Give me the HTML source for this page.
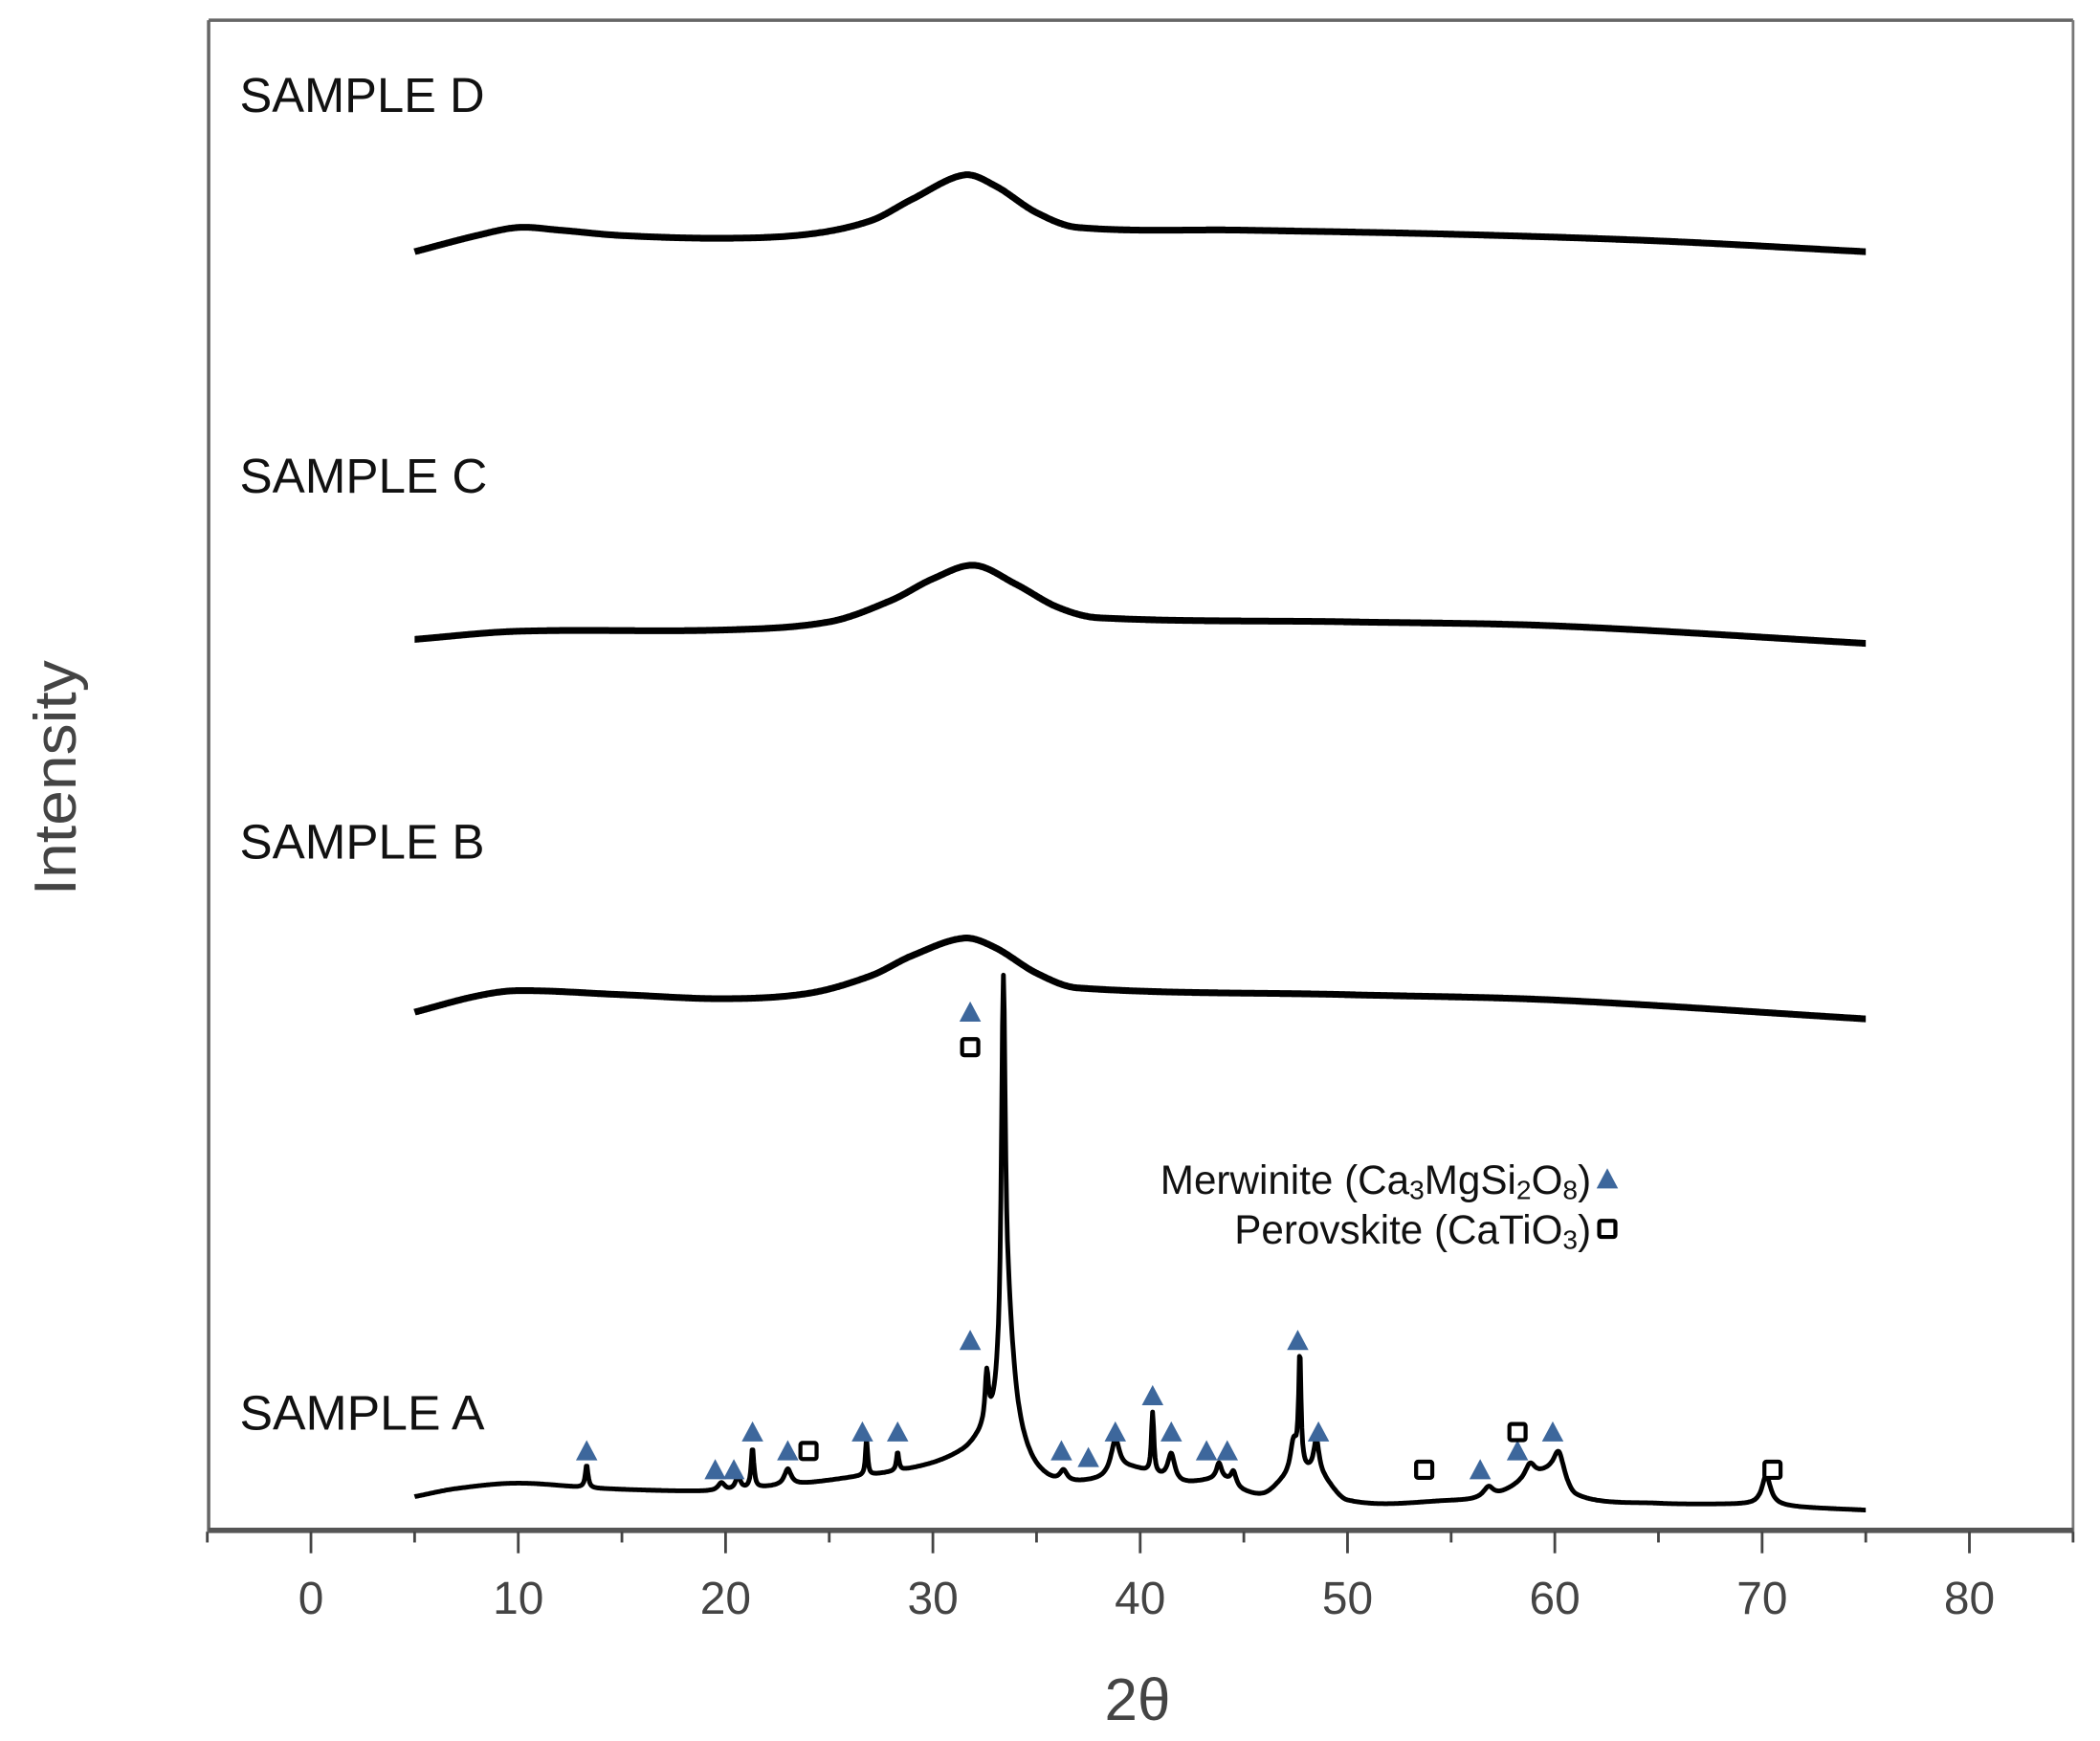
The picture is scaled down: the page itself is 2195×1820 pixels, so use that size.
<!DOCTYPE html>
<html><head><meta charset="utf-8"><style>
html,body{margin:0;padding:0;background:#fff}
svg{display:block}
text{font-family:"Liberation Sans",sans-serif}
</style></head><body>
<svg id="chart" width="2195" height="1820" viewBox="0 0 1560 1293.5" preserveAspectRatio="none" xmlns="http://www.w3.org/2000/svg">
<rect x="0" y="0" width="1560" height="1293.5" fill="#fff"/>
<g id="frame">
<line x1="155" y1="15" x2="1540" y2="15" stroke="#666" stroke-width="2.5"/>
<line x1="155" y1="15" x2="155" y2="1138" stroke="#666" stroke-width="2.5"/>
<line x1="1540" y1="15" x2="1540" y2="1138" stroke="#777" stroke-width="2"/>
<line x1="155" y1="1137" x2="1540" y2="1137" stroke="#555" stroke-width="4"/>
</g>
<g id="xticks"></g>
<g id="curves"></g>
<g id="markers"></g>
<text x="178" y="83" font-size="36" textLength="182" lengthAdjust="spacingAndGlyphs" fill="#111">SAMPLE D</text>
<text x="178" y="366" font-size="36" textLength="184" lengthAdjust="spacingAndGlyphs" fill="#111">SAMPLE C</text>
<text x="178" y="638" font-size="36" textLength="182" lengthAdjust="spacingAndGlyphs" fill="#111">SAMPLE B</text>
<text x="178" y="1062" font-size="36" textLength="182" lengthAdjust="spacingAndGlyphs" fill="#111">SAMPLE A</text>
<text x="1182" y="887" font-size="30" text-anchor="end" fill="#111">Merwinite (Ca<tspan font-size="20" dy="4">3</tspan><tspan dy="-4">MgSi</tspan><tspan font-size="20" dy="4">2</tspan><tspan dy="-4">O</tspan><tspan font-size="20" dy="4">8</tspan><tspan dy="-4">)</tspan></text>
<text x="1182" y="924" font-size="30" text-anchor="end" fill="#111">Perovskite (CaTiO<tspan font-size="20" dy="4">3</tspan><tspan dy="-4">)</tspan></text>
<text transform="translate(56,578) rotate(-90)" font-size="44" text-anchor="middle" textLength="175" lengthAdjust="spacingAndGlyphs" fill="#444">Intensity</text>
<text x="845" y="1278" font-size="44" text-anchor="middle" fill="#444">2θ</text>
</svg>
<script>
const tickValues=[0,10,20,30,40,50,60,70,80];
const minorTicks=[-5,5,15,25,35,45,55,65,75,85];
const sampleNames=["D","C","B","A"];
const zeroLevels=[200,490,770,1130];
const baseD=[[5,13],[8,25],[10,31],[12,29],[15,25],[20,23],[24,26],[27,36],[29,52],[31.5,70],[33,62],[35,42],[37,31],[45,29],[55,26],[65,21],[75,13]];
const baseC=[[5,15],[10,21],[20,22],[25,28],[28,44],[30,60],[32,70],[34,56],[36,39],[38,31],[50,28],[60,25],[75,12]];
const baseB=[[5,18],[8,30],[10,34],[15,31],[20,28],[24,32],[27,45],[29,60],[31.5,73],[33,66],[35,47],[37,36],[50,31],[60,27],[75,13]];
const baseA=[[5,18],[7,24],[10,28],[14,24],[20,22],[22,25],[24,28],[26,32],[28,36],[30,42],[31.5,50],[32.5,58],[34,50],[35,35],[36,28],[38,30],[39.5,38],[41,32],[42,28],[44,30],[45,22],[46,20],[47,30],[48.5,35],[50,15],[55,15],[57,18],[58.5,28],[60,35],[61,18],[65,13],[70,12],[72,10],[75,8]];
const peaksA=[[13.3,17,0.08],[19.8,6,0.2],[20.6,10,0.15],[21.3,30,0.08],[23.0,12,0.2],[26.8,28,0.06],[28.3,14,0.07],[32.6,38,0.1],[33.4,278,0.11],[33.6,90,0.4],[36.3,8,0.2],[38.8,25,0.25],[40.6,45,0.07],[41.5,20,0.2],[43.8,12,0.15],[44.5,10,0.15],[47.4,25,0.2],[47.7,85,0.07],[48.5,25,0.15],[56.8,8,0.3],[58.8,12,0.3],[60.2,18,0.3],[70.2,22,0.25]];
const triA=[13.3,19.5,20.4,21.3,23.0,26.6,28.3,31.8,36.2,37.5,38.8,40.6,41.5,43.2,44.2,47.6,48.6,56.4,58.2,59.9];
const triY=[1078,1092,1092,1064,1078,1064,1064,996,1078,1083,1064,1037,1064,1078,1078,996,1064,1092,1078,1064];
const sqA=[24.0,31.8,53.7,58.2,70.5];
const sqY=[1078,778,1092,1064,1092];
const NS="http://www.w3.org/2000/svg";
function xS(t){return 231+t*15.4;}
function yS(i,zero){return zero-i;}
function interp(b,t){
 for(let k=0;k<b.length-1;k++){
  if(t>=b[k][0]&&t<=b[k+1][0]){
   const p0=b[Math.max(0,k-1)],p1=b[k],p2=b[k+1],p3=b[Math.min(b.length-1,k+2)];
   const h=p2[0]-p1[0],u=(t-p1[0])/h;
   const m1=(p2[1]-p0[1])/(p2[0]-p0[0]||1)*h, m2=(p3[1]-p1[1])/(p3[0]-p1[0]||1)*h;
   const u2=u*u,u3=u2*u;
   return (2*u3-3*u2+1)*p1[1]+(u3-2*u2+u)*m1+(-2*u3+3*u2)*p2[1]+(u3-u2)*m2;
  }
 }
 return b[b.length-1][1];
}
function mk(tag,attrs){const e=document.createElementNS(NS,tag);for(const k in attrs)e.setAttribute(k,attrs[k]);return e;}
const gt=document.getElementById('xticks');
tickValues.forEach(v=>{
 const l=mk('line',{x1:xS(v),x2:xS(v),y1:1138,y2:1154,stroke:'#444','stroke-width':2});
 
 
 gt.appendChild(l);
 const t=mk('text',{x:xS(v),y:1199,'font-size':34,'text-anchor':'middle',fill:'#444'});
 
 
 t.textContent=v;gt.appendChild(t);
});
minorTicks.forEach(v=>{
 const l=mk('line',{x1:xS(v),x2:xS(v),y1:1138,y2:1146,stroke:'#444','stroke-width':2});
 
 
 gt.appendChild(l);
});
const bases=[baseD,baseC,baseB,baseA];
const peakSets=[[],[],[],peaksA];
const gc=document.getElementById('curves');
bases.forEach((b,si)=>{
 let d='';
 for(let t=5;t<=75.0001;t+=0.04){
  let I=interp(b,t);
  peakSets[si].forEach(p=>{const u=(t-p[0])/p[2];I+=p[1]/(1+u*u);});
  d+=(d?'L':'M')+xS(t).toFixed(1)+','+yS(I,zeroLevels[si]).toFixed(1);
 }
 const p=mk('path',{d:d,fill:'none',stroke:'#000','stroke-width':si===3?3.5:5,'stroke-linejoin':'round'});
 
 
 gc.appendChild(p);
});
const gm=document.getElementById('markers');
function tri(x,y){const p=mk('polygon',{points:`${x-8},${y+7} ${x+8},${y+7} ${x},${y-8}`,fill:'#3d679c'});return p;}
function sq(x,y){return mk('rect',{x:x-6,y:y-6,width:12,height:12,fill:'#fff',stroke:'#000','stroke-width':3,rx:1.5});}
triA.forEach((t,i)=>{
 const p=tri(xS(t),triY[i]);
 
 
 gm.appendChild(p);
});
const topTri=tri(xS(31.8),752);


gm.appendChild(topTri);
sqA.forEach((t,i)=>{
 const r=sq(xS(t),sqY[i]);
 
 
 gm.appendChild(r);
});
const lt=tri(1194,876);


gm.appendChild(lt);
const ls=sq(1194,913);


gm.appendChild(ls);
</script>
</body></html>
